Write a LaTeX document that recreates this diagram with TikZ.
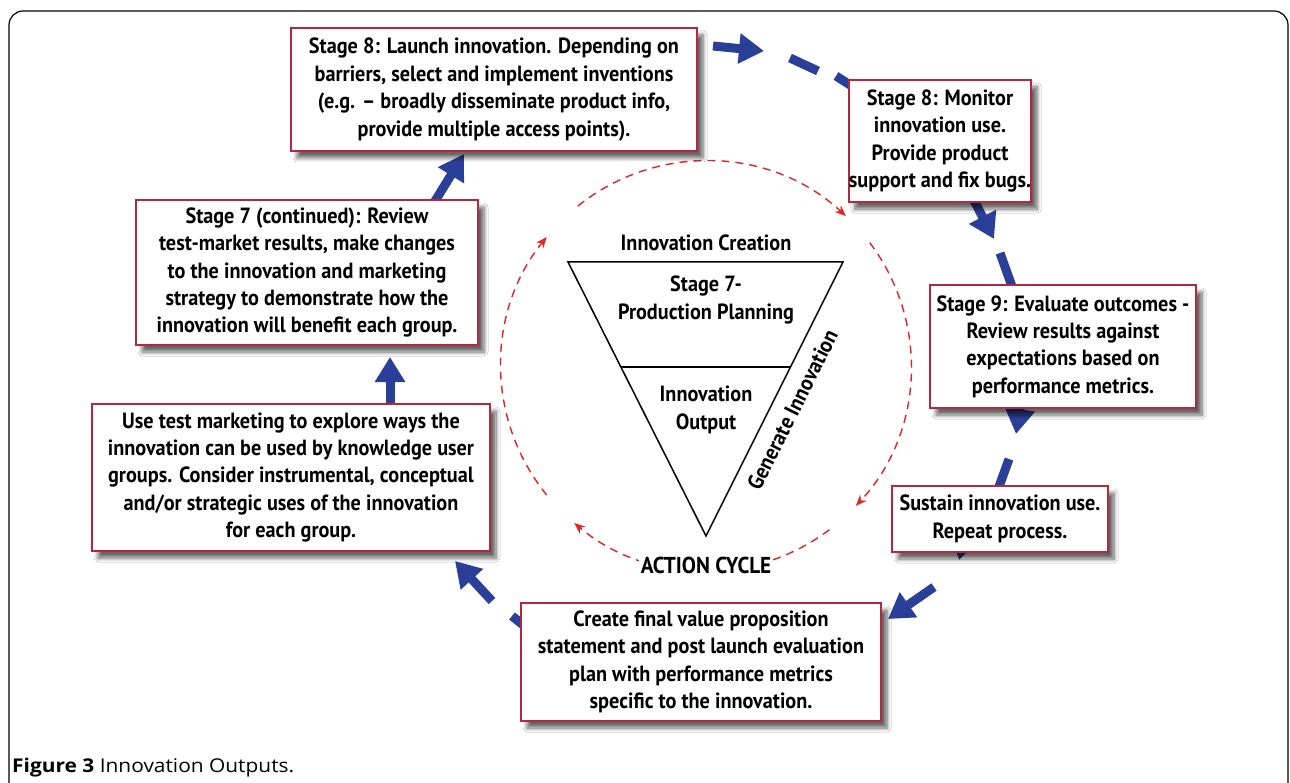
\documentclass[tikz,border=0pt]{standalone}
\usepackage{fontspec}
\setmainfont{PT Sans}[FakeStretch=0.92]
\newfontfamily\capfont{Open Sans}[FakeStretch=1.1]
\usetikzlibrary{arrows.meta,shadows,shadows.blur}
\definecolor{boxred}{RGB}{178,40,62}
\definecolor{arrblue}{RGB}{42,64,152}
\definecolor{dashred}{RGB}{226,36,36}
\begin{document}
\begin{tikzpicture}[x=1pt,y=-1pt,
  stagebox/.style={draw=boxred, line width=1.8pt, fill=white, align=center,
    font=\bfseries\fontsize{22}{27.4}\selectfont, inner sep=0pt,
    blur shadow={shadow xshift=6pt, shadow yshift=-7pt, shadow blur steps=8,
      shadow blur radius=4pt, shadow opacity=60}},
  innerlabel/.style={font=\bfseries\fontsize{22}{27.4}\selectfont, align=center, inner sep=1pt},
  bluearr/.style={draw=arrblue, line width=9pt, -{Triangle[length=25pt,width=29pt]}},
  bluedash/.style={draw=arrblue, line width=9pt},
  redarc/.style={draw=dashred, line width=1.4pt, dash pattern=on 8pt off 6pt,
    -{Stealth[length=11pt,width=9pt]}}]
\useasboundingbox (0,0) rectangle (1290,783);
\fill[white] (0,0) rectangle (1290,783);
% outer frame
\draw[line width=1.2pt, rounded corners=14pt] (9,11) rectangle (1288,805);
% red dashed action cycle
\coordinate (cc) at (706,366);
\draw[redarc] (cc) ++(-128.7:205) arc[start angle=-128.7, end angle=-47, radius=205];
\draw[redarc] (cc) ++(-37:205) arc[start angle=-37, end angle=43, radius=205];
\draw[redarc] (cc) ++(53:205) arc[start angle=53, end angle=130, radius=205];
\draw[redarc] (cc) ++(141:205) arc[start angle=141, end angle=219, radius=205];
% triangle
\coordinate (tl) at (568,262);
\coordinate (tr) at (843,262);
\coordinate (tb) at (706,536);
\coordinate (ml) at (621,367);
\coordinate (mr) at (791,367);
\draw[line width=1.5pt, line join=miter] (tl) -- (tr) -- (tb) -- cycle;
\draw[line width=1.5pt] (ml) -- (mr);
\node[innerlabel] (creation) at (706,243) {Innovation Creation};
\node[innerlabel] (planning) at (706,300) {Stage 7-\\Production Planning};
\node[innerlabel] (output) at (706,410) {Innovation\\Output};
\node[innerlabel, rotate=63.4, anchor=north, inner sep=0pt] (generate) at (785,406) {Generate Innovation};
% blue arrows (named ends)
\coordinate (b1s) at (713,46);  \coordinate (b1e) at (764,51);
\coordinate (b2s) at (790,58);  \coordinate (b2e) at (818,71);
\coordinate (b3s) at (836,76);  \coordinate (b3e) at (858,90);
\coordinate (b4s) at (966,185); \coordinate (b4e) at (994,239);
\coordinate (b5s) at (1000,253);\coordinate (b5e) at (1014,292);
\coordinate (b6s) at (1022,395);\coordinate (b6e) at (1016,434);
\coordinate (b7s) at (1009,459);\coordinate (b7e) at (996,495);
\coordinate (b8s) at (966,530); \coordinate (b8e) at (959,560);
\coordinate (b9s) at (934,587); \coordinate (b9e) at (888,619);
\coordinate (b10s) at (532,632);\coordinate (b10e) at (512,616);
\coordinate (b11s) at (492,601);\coordinate (b11e) at (455,561);
\coordinate (b12s) at (390,412);\coordinate (b12e) at (390,357);
\coordinate (b13s) at (432,206);\coordinate (b13e) at (464,154);
\draw[bluearr] (b1s) -- (b1e);
\draw[bluedash] (b2s) -- (b2e);
\draw[bluedash] (b3s) -- (b3e);
\draw[bluearr] (b4s) -- (b4e);
\draw[bluedash] (b5s) -- (b5e);
\draw[bluearr] (b6s) -- (b6e);
\draw[bluedash] (b7s) -- (b7e);
\draw[bluearr] (b8s) -- (b8e);
\draw[bluearr] (b9s) -- (b9e);
\draw[bluedash] (b10s) -- (b10e);
\draw[bluearr] (b11s) -- (b11e);
\draw[bluearr] (b12s) -- (b12e);
\draw[bluearr] (b13s) -- (b13e);
% boxes
\node[stagebox, minimum width=406pt, minimum height=123pt] (launch) at (494,89.5)
  {Stage 8: Launch innovation. Depending on\\ barriers, select and implement inventions\\ (e.g. – broadly disseminate product info,\\ provide multiple access points).};
\node[stagebox, minimum width=182pt, minimum height=122pt] (monitor) at (940,141)
  {Stage 8: Monitor\\ innovation use.\\ Provide product\\ support and fix bugs.};
\node[stagebox, minimum width=342pt, minimum height=145pt] (review) at (307,272.5)
  {Stage 7 (continued): Review\\ test-market results, make changes\\ to the innovation and marketing\\ strategy to demonstrate how the\\ innovation will benefit each group.};
\node[stagebox, minimum width=398pt, minimum height=147pt] (testmkt) at (291,477.5)
  {Use test marketing to explore ways the\\ innovation can be used by knowledge user\\ groups. Consider instrumental, conceptual\\ and/or strategic uses of the innovation\\ for each group.};
\node[stagebox, minimum width=360pt, minimum height=118pt] (value) at (701,662)
  {Create final value proposition\\ statement and post launch evaluation\\ plan with performance metrics\\ specific to the innovation.};
\node[stagebox, minimum width=216pt, minimum height=66pt] (sustain) at (1000,519)
  {Sustain innovation use.\\ Repeat process.};
\node[stagebox, minimum width=266pt, minimum height=123pt] (evaluate) at (1063,346.5)
  {Stage 9: Evaluate outcomes -\\ Review results against\\ expectations based on\\ performance metrics.};
% action cycle label
\node[fill=white, font=\bfseries\fontsize{23}{26}\selectfont, inner sep=2pt] (action) at (706,565) {ACTION CYCLE};
% caption
\node[anchor=base west, font=\capfont\fontsize{19}{22}\selectfont, inner sep=0pt] (caption) at (12,772)
  {\textbf{Figure 3} Innovation Outputs.};
\end{tikzpicture}
\end{document}
